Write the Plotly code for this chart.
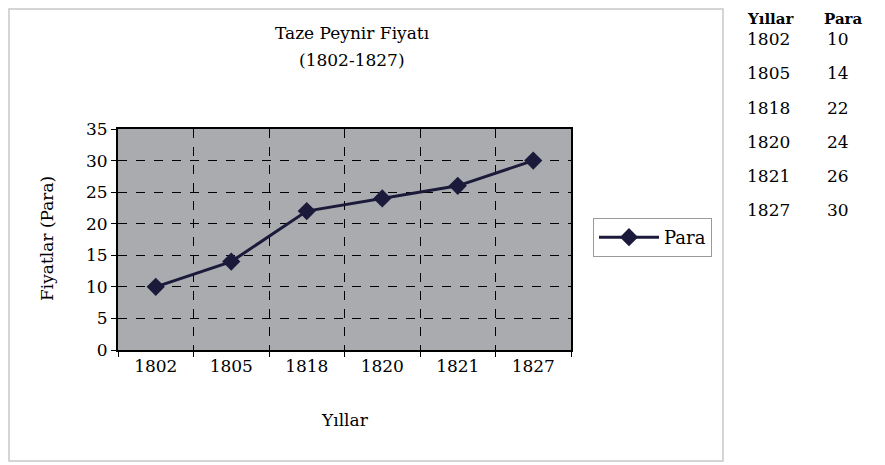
import plotly.graph_objects as go

years = ["1802", "1805", "1818", "1820", "1821", "1827"]
para = [10, 14, 22, 24, 26, 30]
y_ticks = [0, 5, 10, 15, 20, 25, 30, 35]

# page has an 8px body margin; figure is placed at (8, 8)
OFF = 8
W, H = 885 - OFF, 465 - OFF
# plot area in page pixels
L, R, T, B = 118, 571, 129, 350

def px(x):
    return (x - L) / (R - L)

def py(y):
    return (B - y) / (B - T)

serif = "DejaVu Serif, serif"

fig = go.Figure()
fig.add_trace(go.Scatter(
    x=years, y=para, mode="lines+markers", name="Para",
    line=dict(color="#1c1a3a", width=3),
    marker=dict(symbol="diamond", size=14, color="#1c1a3a"),
))

fig.update_layout(
    width=W, height=H,
    margin=dict(l=L - OFF, r=W - (R - OFF), t=T - OFF, b=H - (B - OFF)),
    paper_bgcolor="white",
    plot_bgcolor="#a9abae",
    font=dict(family=serif, size=17, color="black"),
    showlegend=True,
    legend=dict(x=px(593), y=py(218), xanchor="left", yanchor="top",
                bordercolor="#9a9a9a", borderwidth=1, bgcolor="white",
                itemwidth=60,
                font=dict(family=serif, size=18, color="black")),
    xaxis=dict(type="category", range=[-0.5, 5.5], tickson="boundaries",
               showgrid=True, gridcolor="black", griddash="dash", gridwidth=1,
               showline=True, linecolor="black", linewidth=2, mirror=True,
               ticks="outside", ticklen=5, tickcolor="black",
               tickfont=dict(family=serif, size=17)),
    yaxis=dict(range=[0, 35], tickvals=y_ticks,
               showgrid=True, gridcolor="black", griddash="dash", gridwidth=1,
               showline=True, linecolor="black", linewidth=2, mirror=True,
               ticks="outside", ticklen=5, tickcolor="black",
               tickfont=dict(family=serif, size=17), zeroline=False),
)

ann = [
    dict(text="Taze Peynir Fiyatı", x=px(352), y=py(33)),
    dict(text="(1802-1827)", x=px(352), y=py(60)),
    dict(text="Yıllar", x=px(345), y=py(420)),
    dict(text="Fiyatlar (Para)", x=px(47), y=py(239), textangle=-90),
]
for a in ann:
    fig.add_annotation(xref="paper", yref="paper", showarrow=False,
                       xanchor="center", yanchor="middle",
                       font=dict(family=serif, size=17, color="black"), **a)

# data table on the right
tfont = dict(family=serif, size=17, color="black")
hfont = dict(family=serif, size=15, color="black", weight="bold")
fig.add_annotation(xref="paper", yref="paper", showarrow=False, text="Yıllar",
                   x=px(745), y=py(OFF), xanchor="left", yanchor="top", font=hfont)
fig.add_annotation(xref="paper", yref="paper", showarrow=False, text="Para",
                   x=px(822), y=py(OFF), xanchor="left", yanchor="top", font=hfont)
row_y = [39, 73, 108, 142, 176, 210]
for yr, v, ry in zip(years, para, row_y):
    fig.add_annotation(xref="paper", yref="paper", showarrow=False, text=yr,
                       x=px(745), y=py(ry), xanchor="left", yanchor="middle", font=tfont)
    fig.add_annotation(xref="paper", yref="paper", showarrow=False, text=str(v),
                       x=px(825), y=py(ry), xanchor="left", yanchor="middle", font=tfont)

# chart area border
fig.add_shape(type="rect", xref="paper", yref="paper",
              x0=px(9), x1=px(723), y0=py(461), y1=py(9),
              line=dict(color="#c8c8c8", width=1.5), layer="below")

fig.write_html("out.html")
